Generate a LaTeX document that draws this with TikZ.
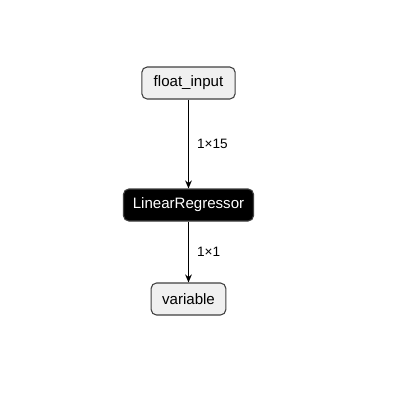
\documentclass[tikz,border=0pt]{standalone}
\usepackage{fontspec}
\setmainfont{Liberation Sans}
\usetikzlibrary{arrows.meta}

\tikzset{
  tensor/.style={draw=black!75, fill=black!6, rounded corners=4pt, line width=0.8pt,
    minimum height=24pt, inner xsep=7pt, font=\fontsize{11.3}{13}\selectfont},
  operator/.style={draw=black!75, fill=black, text=white, rounded corners=4pt, line width=0.8pt,
    minimum height=24pt, inner xsep=7pt, font=\fontsize{11.3}{13}\selectfont},
  flow/.style={-{Stealth[length=6pt,width=5pt]}, line width=0.8pt},
  dims/.style={right, font=\fontsize{10.2}{12}\selectfont, inner xsep=6pt}
}

\begin{document}
\begin{tikzpicture}[x=0.75pt,y=-0.75pt]
\useasboundingbox (0,0) rectangle (412,408);

\node[tensor, minimum width=70pt] (float_input) at (188.5,83) {float\_input};
\node[operator, minimum width=97pt] (LinearRegressor) at (188.5,205) {LinearRegressor};
\node[tensor, minimum width=56pt] (variable) at (188.5,299) {variable};

\draw[flow] (float_input) -- node[dims] {1×15} (LinearRegressor);
\draw[flow] (LinearRegressor) -- node[dims] {1×1} (variable);

\end{tikzpicture}
\end{document}
